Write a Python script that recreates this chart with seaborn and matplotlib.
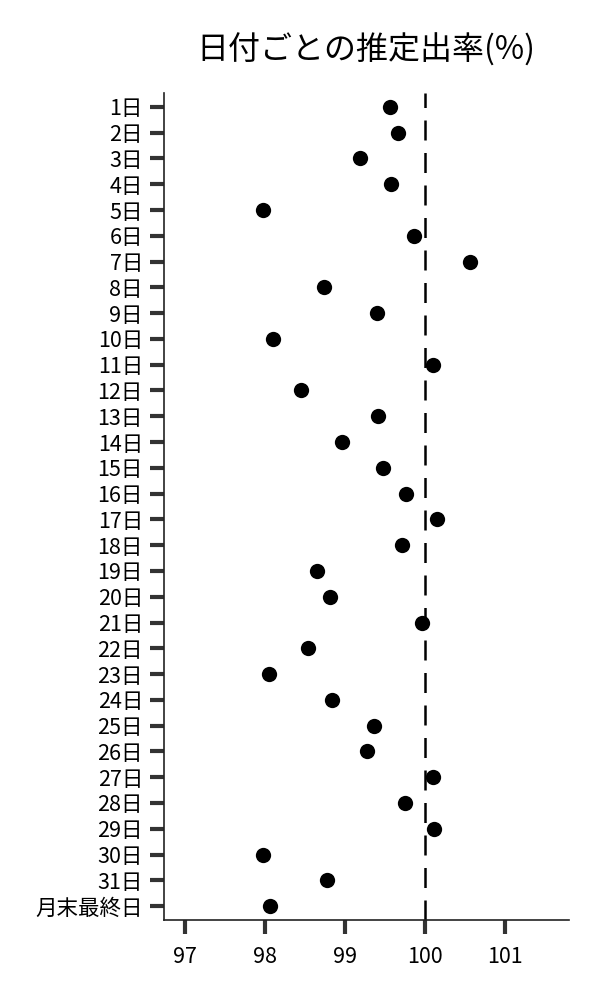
import pandas as pd
import matplotlib
matplotlib.use("Agg")
import matplotlib.pyplot as plt
import seaborn as sns

# Data
days = [f"{i}日" for i in range(1, 32)] + ["月末最終日"]
rates = [99.56, 99.67, 99.19, 99.58, 97.98, 99.86, 100.57, 98.74, 99.40, 98.10,
         100.10, 98.46, 99.41, 98.97, 99.48, 99.77, 100.15, 99.71, 98.65, 98.82,
         99.96, 98.54, 98.06, 98.84, 99.36, 99.28, 100.10, 99.75, 100.12, 97.98,
         98.78, 98.07]
ref_value = 100
xticks = [97, 98, 99, 100, 101]

df = pd.DataFrame({"day": days, "rate": rates})

sns.set_style("ticks")
plt.rcParams['font.family'] = ['Noto Sans CJK JP', 'DejaVu Sans']

fig = plt.figure(figsize=(6, 10), dpi=100)
ax = fig.add_axes([0.273, 0.08, 0.675, 0.827])

sns.stripplot(data=df, x="rate", y="day", order=days, jitter=False,
              color="black", size=11, linewidth=0, ax=ax)
ax.axvline(ref_value, color="black", linewidth=1.8, dashes=(8, 5))

ax.set_xlim(96.74, 101.8)
ax.set_ylim(len(days) - 0.46, -0.54)
ax.set_xticks(xticks)
ax.set_xlabel("")
ax.set_ylabel("")
ax.set_title("日付ごとの推定出率(%)", fontsize=23, pad=24, color="black")

ax.tick_params(axis="both", length=10, width=3, color="#333333",
               labelsize=15.5, labelcolor="black")
ax.tick_params(axis="y", pad=5)
ax.tick_params(axis="x", pad=9)
for s in ["left", "bottom"]:
    ax.spines[s].set_color("#222222")
    ax.spines[s].set_linewidth(1.2)
sns.despine(ax=ax)

plt.savefig("out.png", dpi=100)
plt.close()
